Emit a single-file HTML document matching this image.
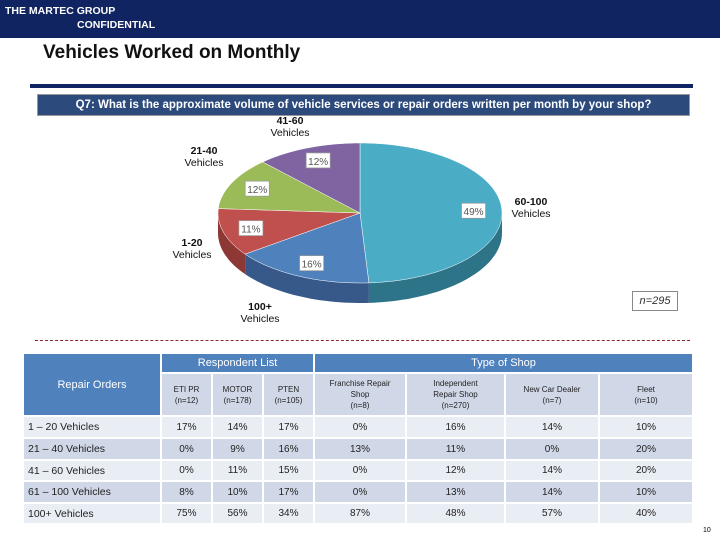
<!DOCTYPE html>
<html><head><meta charset="utf-8"><style>
body{margin:0;width:720px;height:540px;position:relative;background:#fff;font-family:"Liberation Sans",sans-serif;overflow:hidden}
.abs{position:absolute}
table{border-collapse:collapse;position:absolute;left:22px;top:352px;font-size:10px;color:#222}
td{text-align:center;border:2px solid #fff;padding:0;font-family:"Liberation Sans Narrow","Liberation Sans",sans-serif}
.h{background:#4f81bd;color:#fff}
.s{background:#d0d8e8;font-size:8px;line-height:11px}
.r1 td{background:#e9edf4}.r2 td{background:#d0d8e8}
td.l{text-align:left;padding-left:4px;font-size:10.5px}
</style></head><body>
<div class="abs" style="left:0;top:0;width:720px;height:38px;background:#0f2461;color:#fff;font-size:10.5px;font-weight:bold;line-height:13px">
<div class="abs" style="left:5px;top:5px">THE MARTEC GROUP</div>
<div class="abs" style="left:77px;top:19px">CONFIDENTIAL</div></div>
<div class="abs" style="left:43px;top:42px;font-size:19px;font-weight:bold;color:#111">Vehicles Worked on Monthly</div>
<div class="abs" style="left:30px;top:84px;width:663px;height:4px;background:#0f2461"></div>
<div class="abs" style="left:37px;top:94px;width:651px;height:20px;background:#2c4a7c;border:1px solid #999;color:#fff;font-size:11.5px;font-weight:bold;line-height:20px;text-align:center">Q7: What is the approximate volume of vehicle services or repair orders written per month by your shop?</div>
<svg class="abs" style="left:0;top:0" width="720" height="345" id="pie"></svg>
<div class="abs" style="left:632px;top:291px;width:44px;height:18px;border:1px solid #888;font-size:11px;font-style:italic;line-height:18px;text-align:center;color:#333">n=295</div>
<div class="abs" style="left:35px;top:340px;width:655px;border-top:1px dashed #8b2a2a"></div>
<table>
<tr style="height:20px"><td class="h" rowspan="2" style="width:136px;font-size:11px">Repair Orders</td><td class="h" colspan="3" style="font-size:11px">Respondent List</td><td class="h" colspan="4" style="font-size:11px">Type of Shop</td></tr>
<tr style="height:43px"><td class="s" style="width:49px">ETI PR<br>(n=12)</td><td class="s" style="width:49px">MOTOR<br>(n=178)</td><td class="s" style="width:49px">PTEN<br>(n=105)</td><td class="s" style="width:90px">Franchise Repair<br>Shop<br>(n=8)</td><td class="s" style="width:97px">Independent<br>Repair Shop<br>(n=270)</td><td class="s" style="width:92px">New Car Dealer<br>(n=7)</td><td class="s" style="width:92px">Fleet<br>(n=10)</td></tr>
<tr class="r1" style="height:22px"><td class="l">1 – 20 Vehicles</td><td>17%</td><td>14%</td><td>17%</td><td>0%</td><td>16%</td><td>14%</td><td>10%</td></tr>
<tr class="r2" style="height:22px"><td class="l">21 – 40 Vehicles</td><td>0%</td><td>9%</td><td>16%</td><td>13%</td><td>11%</td><td>0%</td><td>20%</td></tr>
<tr class="r1" style="height:21px"><td class="l">41 – 60 Vehicles</td><td>0%</td><td>11%</td><td>15%</td><td>0%</td><td>12%</td><td>14%</td><td>20%</td></tr>
<tr class="r2" style="height:22px"><td class="l">61 – 100 Vehicles</td><td>8%</td><td>10%</td><td>17%</td><td>0%</td><td>13%</td><td>14%</td><td>10%</td></tr>
<tr class="r1" style="height:21px"><td class="l">100+ Vehicles</td><td>75%</td><td>56%</td><td>34%</td><td>87%</td><td>48%</td><td>57%</td><td>40%</td></tr>
</table>
<div class="abs" style="left:703px;top:527px;font-size:7px">10</div>
<script>
const categories=["60-100 Vehicles","100+ Vehicles","1-20 Vehicles","21-40 Vehicles","41-60 Vehicles"];
const values=[49,16,11,12,12];
const topColors=["#4bacc6","#4f81bd","#c0504d","#9bbb59","#8064a2"];
const sideColors=["#2d7489","#36598a","#8e3836","#6e8a3c","#5a4677"];
const labelPos=[[531,205],[260,310],[192,246],[204,154],[290,124]];
const svg=document.getElementById('pie');const NS='http://www.w3.org/2000/svg';
const cx=360,cy=213,rx=142,ry=70,d=20;
const total=values.reduce((a,b)=>a+b,0);
function pt(t,dy){const a=t*Math.PI/180;return [cx+rx*Math.sin(a),cy-ry*Math.cos(a)+(dy||0)];}
function arc(a0,a1,dy){let s='';const n=Math.max(2,Math.ceil(Math.abs(a1-a0)/2));for(let i=0;i<=n;i++){const p=pt(a0+(a1-a0)*i/n,dy);s+=(i?'L':'')+p[0].toFixed(1)+','+p[1].toFixed(1)+' ';}return s;}
function mk(tag,attrs){const e=document.createElementNS(NS,tag);for(const k in attrs)e.setAttribute(k,attrs[k]);svg.appendChild(e);return e;}
let acc=0;const sl=values.map(v=>{const a0=acc/total*360;acc+=v;return [a0,acc/total*360];});
sl.forEach(([a0,a1],i)=>{const s=Math.max(a0,90),e=Math.min(a1,270);if(e>s){
const p=mk('path',{d:'M'+arc(s,e,0)+'L'+arc(e,s,d).slice(0)+'Z',fill:sideColors[i]});

}});
sl.forEach(([a0,a1],i)=>{
const p=mk('path',{d:'M'+cx+','+cy+' L'+arc(a0,a1,0)+'Z',fill:topColors[i],stroke:'#fff','stroke-width':0.5});


const m=(a0+a1)/2,q=[cx+rx*0.8*Math.sin(m*Math.PI/180),cy-ry*0.8*Math.cos(m*Math.PI/180)];
const r=mk('rect',{x:q[0]-12,y:q[1]-8,width:24,height:15,fill:'#fff',stroke:'#999','stroke-width':0.7});


const t=mk('text',{x:q[0],y:q[1]+4,'text-anchor':'middle','font-size':10,fill:'#555','font-family':'Liberation Sans, sans-serif'});
t.textContent=values[i]+'%';


const parts=categories[i].split(' ');
const L=mk('text',{x:labelPos[i][0],y:labelPos[i][1],'text-anchor':'middle','font-size':10.5,fill:'#111','font-family':'Liberation Sans, sans-serif'});


parts.forEach((w,j)=>{const ts=document.createElementNS(NS,'tspan');ts.setAttribute('x',labelPos[i][0]);ts.setAttribute('dy',j?'12':'0');if(j==0)ts.setAttribute('font-weight','bold');ts.textContent=w;L.appendChild(ts);});
});
</script>
</body></html>
